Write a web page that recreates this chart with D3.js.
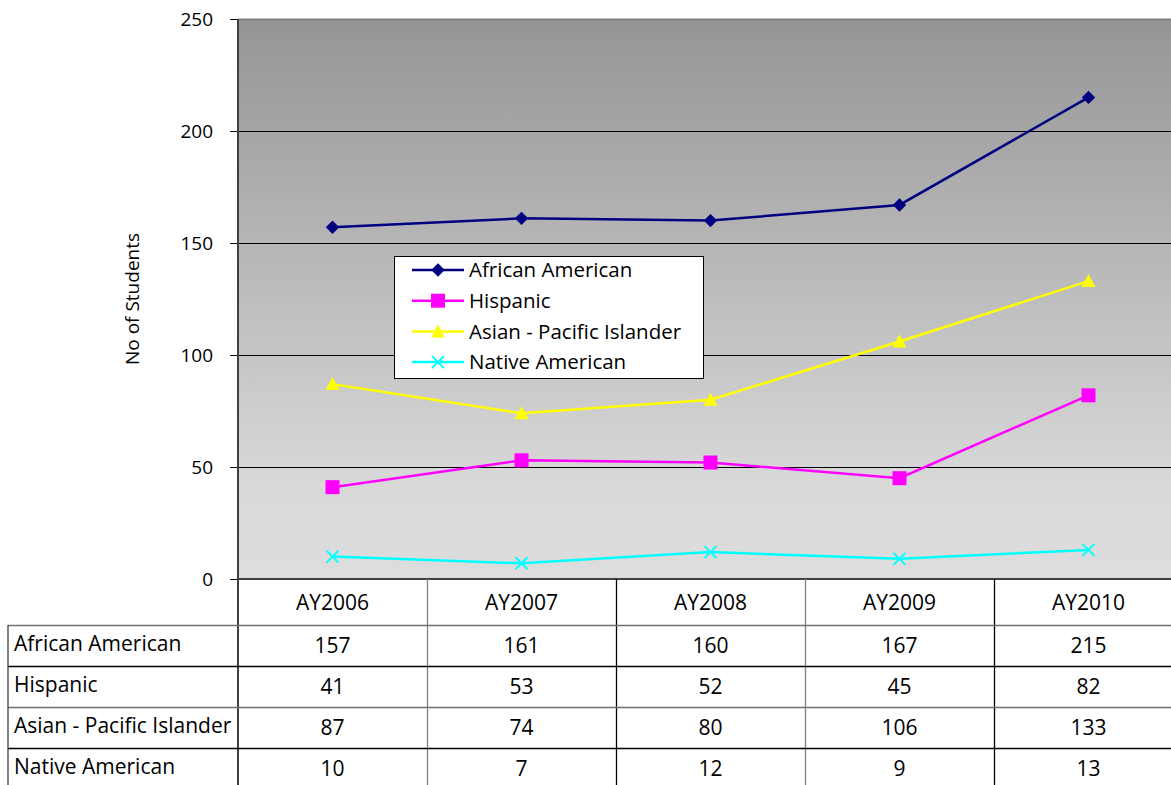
<!DOCTYPE html>
<html>
<head>
<meta charset="utf-8">
<script src="https://cdn.jsdelivr.net/npm/d3@7"></script>
<style>
  body { margin: 0; background: #fff; }
  svg { display: block; font-family: "Open Sans", "Noto Sans", sans-serif; }
</style>
</head>
<body>
<div id="chart"></div>
<script>
// data
var years = ["AY2006", "AY2007", "AY2008", "AY2009", "AY2010"];
var seriesNames = ["African American", "Hispanic", "Asian - Pacific Islander", "Native American"];
var africanAmerican = [157, 161, 160, 167, 215];
var hispanic = [41, 53, 52, 45, 82];
var asianPacific = [87, 74, 80, 106, 133];
var nativeAmerican = [10, 7, 12, 9, 13];
var yTicks = [0, 50, 100, 150, 200, 250];

var seriesValues = [africanAmerican, hispanic, asianPacific, nativeAmerican];
var colors = ["#000080", "#ff00ff", "#ffff00", "#00ffff"];
var symbols = ["diamond", "square", "triangle", "cross"];

var width = 1171, height = 785;
var margin = {left: 238, top: 19};
var Gwidth = 945, Gheight = 560;
var rowH = 41, headH = 46, tableLeft = 8;
var fs = 21;

var svg = d3.select("#chart").append("svg")
    .attr("width", width)
    .attr("height", height);

var defs = svg.append("defs");
var grad = defs.append("linearGradient")
    .attr("id", "bg")
    .attr("x1", 0).attr("y1", 0).attr("x2", 0).attr("y2", 1);
grad.append("stop").attr("offset", "0%").attr("stop-color", "#959595");
grad.append("stop").attr("offset", "85%").attr("stop-color", "#dadada");
grad.append("stop").attr("offset", "100%").attr("stop-color", "#dddddd");

var topG = svg.append("g")
    .attr("transform", "translate(" + margin.left + "," + margin.top + ")");

var scaleY = d3.scaleLinear().domain([0, 250]).range([Gheight, 0]);
var scaleX = d3.scaleBand().domain(years).range([0, Gwidth]);

topG.append("rect")
    .attr("width", Gwidth)
    .attr("height", Gheight)
    .attr("fill", "url(#bg)");

// gridlines
topG.selectAll(".grid")
    .data(yTicks.filter(d => d > 0 && d < 250))
    .enter().append("line")
    .attr("x1", 0).attr("x2", Gwidth)
    .attr("y1", d => scaleY(d) + 0.5).attr("y2", d => scaleY(d) + 0.5)
    .attr("stroke", "#000")
    .attr("stroke-width", 1);

topG.append("line")
    .attr("x1", 0).attr("x2", Gwidth)
    .attr("y1", 0.5).attr("y2", 0.5)
    .attr("stroke", "#808080").attr("stroke-width", 2);

// y axis
var yAxis = topG.append("g")
    .call(d3.axisLeft(scaleY).tickValues(yTicks).tickSize(8).tickPadding(17));
yAxis.select(".domain").remove();
yAxis.selectAll(".tick line").attr("stroke", "#000").attr("stroke-width", 1);
yAxis.selectAll(".tick text")
    .attr("font-size", 19)
    .attr("fill", "#000")
    .attr("font-family", "Open Sans, Noto Sans, sans-serif");

topG.append("line")
    .attr("x1", 0).attr("x2", 0)
    .attr("y1", 0).attr("y2", Gheight + headH + rowH * 5)
    .attr("stroke", "#404040").attr("stroke-width", 2);

topG.append("line")
    .attr("x1", 0).attr("x2", Gwidth)
    .attr("y1", Gheight).attr("y2", Gheight)
    .attr("stroke", "#404040").attr("stroke-width", 2);

// axis title
svg.append("text")
    .attr("transform", "rotate(-90)")
    .attr("x", -299)
    .attr("y", 139)
    .attr("text-anchor", "middle")
    .attr("font-size", 19)
    .text("No of Students");

// lines
var chartArea = topG.append("g");
var cx = d => scaleX(d) + scaleX.bandwidth() / 2;

function drawMarker(g, type, color, x, y) {
  if (type === "diamond") {
    g.append("path")
      .attr("d", d3.symbol().type(d3.symbolDiamond2).size(115)())
      .attr("transform", "translate(" + x + "," + y + ")")
      .attr("fill", color);
  } else if (type === "square") {
    g.append("rect")
      .attr("x", x - 7).attr("y", y - 7)
      .attr("width", 14).attr("height", 14)
      .attr("fill", color);
  } else if (type === "triangle") {
    g.append("path")
      .attr("d", "M" + x + "," + (y - 7) + "L" + (x + 7) + "," + (y + 6) + "L" + (x - 7) + "," + (y + 6) + "Z")
      .attr("fill", color);
  } else {
    g.append("path")
      .attr("d", "M" + (x - 6) + "," + (y - 6) + "L" + (x + 6) + "," + (y + 6) +
                 "M" + (x + 6) + "," + (y - 6) + "L" + (x - 6) + "," + (y + 6))
      .attr("stroke", color)
      .attr("stroke-width", 2)
      .attr("fill", "none");
  }
}

seriesValues.forEach(function(vals, i) {
  var line = d3.line()
    .x((d, j) => cx(years[j]))
    .y(d => scaleY(d));
  chartArea.append("path")
    .datum(vals)
    .attr("d", line)
    .attr("fill", "none")
    .attr("stroke", colors[i])
    .attr("stroke-width", 2.5);
});
seriesValues.forEach(function(vals, i) {
  vals.forEach(function(v, j) {
    drawMarker(chartArea, symbols[i], colors[i], cx(years[j]), scaleY(v));
  });
});

// legend
var legend = svg.append("g").attr("transform", "translate(394,256)");
legend.append("rect")
    .attr("x", 0.5).attr("y", 0.5)
    .attr("width", 309).attr("height", 122)
    .attr("fill", "#fff")
    .attr("stroke", "#000").attr("stroke-width", 1);
seriesNames.forEach(function(name, i) {
  var y = 14 + i * 30.7;
  legend.append("line")
    .attr("x1", 18).attr("x2", 70)
    .attr("y1", y).attr("y2", y)
    .attr("stroke", colors[i]).attr("stroke-width", 2.5);
  drawMarker(legend, symbols[i], colors[i], 44, y);
  legend.append("text")
    .attr("x", 75).attr("y", y)
    .attr("dy", "0.35em")
    .attr("font-size", fs - 0.5)
    .text(name);
});

// data table
var table = topG.append("g").attr("transform", "translate(0," + Gheight + ")");
years.forEach(function(yr, j) {
  table.append("text")
    .attr("x", cx(yr))
    .attr("y", headH / 2 + 1)
    .attr("dy", "0.35em")
    .attr("text-anchor", "middle")
    .attr("font-size", fs)
    .text(yr);
});
years.forEach(function(yr, j) {
  if (j === 0) return;
  table.append("line")
    .attr("x1", scaleX(yr) + 0.5).attr("x2", scaleX(yr) + 0.5)
    .attr("y1", 0).attr("y2", headH + rowH * 5)
    .attr("stroke", j % 2 ? "#808080" : "#000")
    .attr("stroke-width", 1.3);
});
d3.range(5).forEach(function(r) {
  table.append("line")
    .attr("x1", tableLeft - margin.left).attr("x2", Gwidth)
    .attr("y1", headH + r * rowH + 0.5).attr("y2", headH + r * rowH + 0.5)
    .attr("stroke", r % 2 ? "#000" : "#707070")
    .attr("stroke-width", 1.3);
});
table.append("line")
    .attr("x1", tableLeft - margin.left).attr("x2", tableLeft - margin.left)
    .attr("y1", headH).attr("y2", headH + rowH * 5)
    .attr("stroke", "#404040").attr("stroke-width", 1.3);

seriesNames.forEach(function(name, i) {
  var y = headH + i * rowH + rowH / 2 - 2;
  table.append("text")
    .attr("x", tableLeft - margin.left + 6)
    .attr("y", y)
    .attr("dy", "0.35em")
    .attr("font-size", fs)
    .text(name);
  seriesValues[i].forEach(function(v, j) {
    table.append("text")
      .attr("x", cx(years[j]))
      .attr("y", y + 2)
      .attr("dy", "0.35em")
      .attr("text-anchor", "middle")
      .attr("font-size", fs)
      .text(v);
  });
});
</script>
</body>
</html>
